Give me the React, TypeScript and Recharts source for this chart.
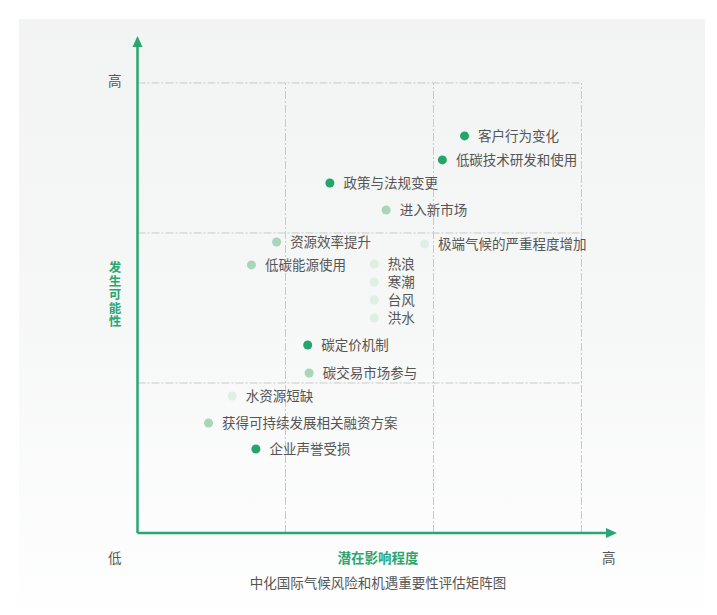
import { ScatterChart, Scatter, XAxis, YAxis, ZAxis, ReferenceLine, ReferenceDot, LabelList, Cell } from "recharts";

// 风险/机遇名称
const itemNames = [
  "客户行为变化",
  "低碳技术研发和使用",
  "政策与法规变更",
  "进入新市场",
  "资源效率提升",
  "极端气候的严重程度增加",
  "低碳能源使用",
  "热浪",
  "寒潮",
  "台风",
  "洪水",
  "碳定价机制",
  "碳交易市场参与",
  "水资源短缺",
  "获得可持续发展相关融资方案",
  "企业声誉受损",
];
// 潜在影响程度 (0-3)
const impactValues = [2.21, 2.06, 1.3, 1.68, 0.94, 1.94, 0.77, 1.6, 1.6, 1.6, 1.6, 1.15, 1.16, 0.64, 0.48, 0.8];
// 发生可能性 (0-3)
const likelihoodValues = [2.647, 2.487, 2.333, 2.153, 1.94, 1.927, 1.787, 1.793, 1.673, 1.553, 1.433, 1.253, 1.067, 0.913, 0.733, 0.56];
// 重要性等级: 3 深, 2 中, 1 浅
const levels = [3, 3, 3, 2, 2, 1, 2, 1, 1, 1, 1, 3, 2, 1, 2, 3];
const gridTicks = [1, 2, 3];

const LEVEL_COLORS: Record<number, string> = { 3: "#25a56c", 2: "#a9d6b9", 1: "#dfefe4" };
const GREEN = "#2aa673";
const GRID = "#c9c9c9";
const TEXT = "#555";
const FONT = "'Noto Sans CJK SC', 'Noto Sans', sans-serif";

const X_MAX = 3.24;
const Y_MAX = 3.313;

const data = itemNames.map((name, i) => ({
  name,
  x: impactValues[i],
  y: likelihoodValues[i],
  level: levels[i],
}));

function ArrowRight(p: any) {
  const { cx, cy } = p;
  return <path d={`M${cx},${cy} L${cx - 11},${cy - 5} L${cx - 11},${cy + 5} Z`} fill={GREEN} />;
}

function ArrowUp(p: any) {
  const { cx, cy } = p;
  return <path d={`M${cx},${cy} L${cx - 5},${cy + 11} L${cx + 5},${cy + 11} Z`} fill={GREEN} />;
}

const textBase = { position: "absolute" as const, fontSize: 13.5, color: TEXT, fontFamily: FONT, lineHeight: "16px" };

export default function App() {
  return (
    <div style={{ position: "absolute", left: 0, top: 0, width: 717, height: 615, background: "#fff", fontFamily: FONT }}>
      <div
        style={{
          position: "absolute",
          left: 19,
          top: 19,
          width: 686,
          height: 589,
          background: "linear-gradient(180deg, #f2f3f3 0%, #f6f7f7 50%, #fefefe 100%)",
        }}
      />
      <div style={{ position: "absolute", left: 0, top: 0 }}>
        <ScatterChart width={717} height={615} margin={{ top: 36, left: 137.5, right: 100, bottom: 82 }}>
          <XAxis type="number" dataKey="x" domain={[0, X_MAX]} hide />
          <YAxis type="number" dataKey="y" domain={[0, Y_MAX]} hide />
          <ZAxis range={[50, 50]} />
          {gridTicks.map((t) => (
            <ReferenceLine
              key={"h" + t}
              segment={[{ x: 0, y: t }, { x: 3, y: t }]}
              stroke={GRID}
              strokeDasharray="8 2 2 2"
              ifOverflow="visible"
            />
          ))}
          {gridTicks.map((t) => (
            <ReferenceLine
              key={"v" + t}
              segment={[{ x: t, y: 0 }, { x: t, y: 3 }]}
              stroke={GRID}
              strokeDasharray="8 2 2 2"
              ifOverflow="visible"
            />
          ))}
          <ReferenceLine segment={[{ x: 0, y: 0 }, { x: X_MAX - 0.05, y: 0 }]} stroke={GREEN} strokeWidth={2.5} ifOverflow="visible" />
          <ReferenceLine segment={[{ x: 0, y: 0 }, { x: 0, y: Y_MAX - 0.05 }]} stroke={GREEN} strokeWidth={2.5} ifOverflow="visible" />
          <ReferenceDot x={X_MAX} y={0} shape={ArrowRight} ifOverflow="visible" />
          <ReferenceDot x={0} y={Y_MAX} shape={ArrowUp} ifOverflow="visible" />
          <Scatter data={data} shape="circle" isAnimationActive={false}>
            {data.map((d, i) => (
              <Cell key={i} fill={LEVEL_COLORS[d.level]} />
            ))}
            <LabelList dataKey="name" position="right" offset={9} fill={TEXT} fontSize={13.5} fontFamily={FONT} />
          </Scatter>
        </ScatterChart>
      </div>
      <div style={{ ...textBase, left: 108, top: 72 }}>高</div>
      <div style={{ ...textBase, left: 108, top: 549 }}>低</div>
      <div style={{ ...textBase, left: 602, top: 549 }}>高</div>
      <div style={{ ...textBase, left: 278, width: 200, top: 549, textAlign: "center", color: GREEN, fontWeight: 700 }}>
        潜在影响程度
      </div>
      <div
        style={{
          ...textBase,
          left: 108.5,
          top: 261,
          fontSize: 12.5,
          lineHeight: "13px",
          letterSpacing: 1,
          color: GREEN,
          fontWeight: 700,
          writingMode: "vertical-rl",
          textOrientation: "upright",
        }}
      >
        发生可能性
      </div>
      <div style={{ ...textBase, left: 178, width: 400, top: 574, textAlign: "center" }}>中化国际气候风险和机遇重要性评估矩阵图</div>
    </div>
  );
}
